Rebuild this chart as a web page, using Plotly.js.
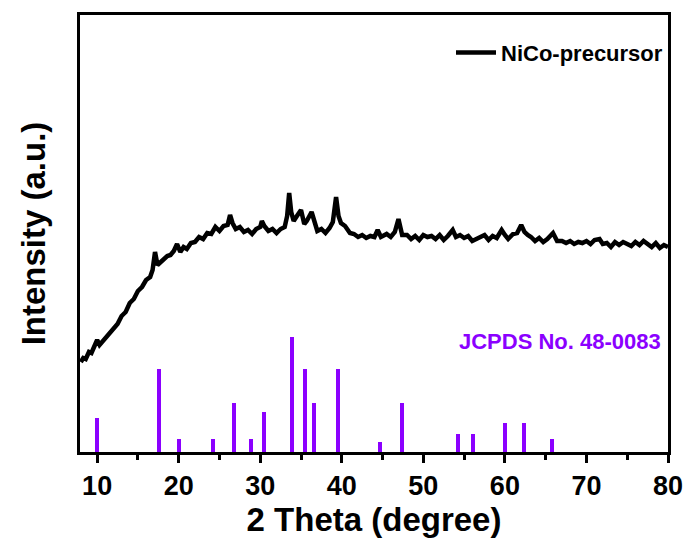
<!DOCTYPE html>
<html>
<head>
<meta charset="utf-8">
<script src="https://cdn.plot.ly/plotly-3.0.1.min.js"></script>
<style>html,body{margin:0;padding:0;background:#fff;}#chart{width:686px;height:545px;}</style>
</head>
<body>
<div id="chart"></div>
<script>
// XRD pattern of NiCo-precursor (2θ in degrees, intensity in a.u.)
const twoTheta = [8.0,8.3,8.6,9.0,9.3,9.6,10.0,10.3,10.6,11.0,11.5,12.0,12.5,13.0,13.5,14.0,14.5,15.0,15.5,16.0,16.5,16.8,17.1,17.4,17.8,18.2,18.6,19.0,19.4,19.8,20.2,20.6,21.0,21.5,22.0,22.5,23.0,23.5,24.0,24.5,25.0,25.5,26.0,26.3,26.6,27.0,27.5,28.0,28.5,29.0,29.5,30.0,30.2,30.5,31.0,31.5,32.0,32.5,33.0,33.3,33.55,33.8,34.1,34.5,35.0,35.4,35.7,36.3,36.7,37.0,37.5,38.0,38.5,38.9,39.3,39.6,39.9,40.4,41.0,41.5,42.0,42.5,43.0,43.5,44.0,44.4,44.8,45.5,46.0,46.5,46.95,47.4,48.0,48.5,49.0,49.5,50.0,50.5,51.0,51.5,52.0,52.5,53.0,53.6,54.0,54.5,55.0,55.5,56.0,56.5,57.0,57.5,58.0,58.5,59.0,59.6,60.0,60.4,61.0,61.5,62.0,62.4,62.8,63.2,63.7,64.2,64.7,65.2,65.9,66.4,67.0,67.5,68.0,68.5,69.0,69.5,70.0,70.5,71.0,71.6,72.0,72.5,73.0,73.5,74.0,74.5,75.0,75.5,76.0,76.5,77.0,77.5,78.0,78.5,79.0,79.5,80.0];
const intensity = [90,94,93,100,99,106,112,107,110,113,118,123,128,136,140,149,153,161,165,172,175,182,200,187,190,192,196,197,201,208,200,205,203,209,210,215,213,219,218,225,221,226,227,237,229,223,225,220,222,218,223,225,231,226,221,223,219,223,225,236,259,240,231,236,242,228,231,240,230,221,223,219,224,230,255,236,229,226,219,218,215,217,214,216,215,222,215,218,215,220,233,217,217,213,216,212,217,215,216,213,217,212,216,222,215,217,214,216,211,213,214,217,212,216,214,222,217,213,218,219,227,220,217,215,211,214,210,213,219,211,211,209,211,208,210,209,211,208,212,213,208,209,205,210,207,210,208,206,210,207,211,208,205,209,204,207,205];

// Reference pattern JCPDS No. 48-0083 (2θ, relative intensity)
const refPos = [10.0,17.55,20.0,24.2,26.8,28.9,30.5,33.9,35.5,36.6,39.55,44.7,47.4,54.2,56.1,60.0,62.3,65.8];
const refInt = [30,72,11,11,43,11,35,100,72,43,72,9,43,16,16,25,25,11];

const xTickVals = [10,20,30,40,50,60,70,80];
const seriesName = 'NiCo-precursor';
const refLabel = 'JCPDS No. 48-0083';

const purple = '#8B00FF';
const fontFam = '"Liberation Sans", Arial, Helvetica, sans-serif';

const traces = [
  {
    x: refPos, y: refInt, type: 'bar', yaxis: 'y2', width: 0.48,
    marker: {color: purple, line: {width: 0}}, showlegend: false, hoverinfo: 'x+y'
  },
  {
    x: twoTheta, y: intensity, type: 'scatter', mode: 'lines', name: seriesName,
    line: {color: '#000', width: 4.5}
  }
];

const layout = {
  width: 686, height: 545,
  margin: {l: 80, r: 18, t: 15, b: 93},
  paper_bgcolor: '#fff', plot_bgcolor: '#fff',
  font: {family: fontFam, color: '#000'},
  showlegend: true,
  legend: {
    x: 1, xanchor: 'right', y: 0.962, yanchor: 'top',
    bgcolor: 'rgba(0,0,0,0)', borderwidth: 0,
    font: {size: 22, weight: 'bold', family: fontFam, color: '#000'},
    itemwidth: 40
  },
  xaxis: {
    range: [7.9, 80], tickvals: xTickVals, ticktext: xTickVals.map(String),
    showline: true, linewidth: 3, linecolor: '#000', mirror: true,
    ticks: 'outside', ticklen: 8, tickwidth: 3, tickcolor: '#000',
    minor: {dtick: 5, tick0: 5, ticks: 'outside', ticklen: 5, tickwidth: 3, tickcolor: '#000', showgrid: false},
    showgrid: false, zeroline: false,
    tickfont: {size: 27, weight: 'bold', family: fontFam, color: '#000'},
    title: {text: '2 Theta (degree)', font: {size: 33, weight: 'bold', family: fontFam, color: '#000'}, standoff: 8}
  },
  yaxis: {
    range: [0, 437], showline: true, linewidth: 3, linecolor: '#000', mirror: true,
    showticklabels: false, ticks: '', showgrid: false, zeroline: false,
    title: {text: 'Intensity (a.u.)', font: {size: 33, weight: 'bold', family: fontFam, color: '#000'}, standoff: 22}
  },
  yaxis2: {
    range: [0, 380], overlaying: 'y', side: 'left', visible: false,
    showgrid: false, zeroline: false
  },
  annotations: [{
    text: refLabel, xref: 'paper', yref: 'paper', x: 0.992, xanchor: 'right',
    y: 0.252, yanchor: 'middle', showarrow: false,
    font: {size: 22, weight: 'bold', family: fontFam, color: purple}
  }],
  bargap: 0
};

Plotly.newPlot('chart', traces, layout, {staticPlot: true, displayModeBar: false});
</script>
</body>
</html>
